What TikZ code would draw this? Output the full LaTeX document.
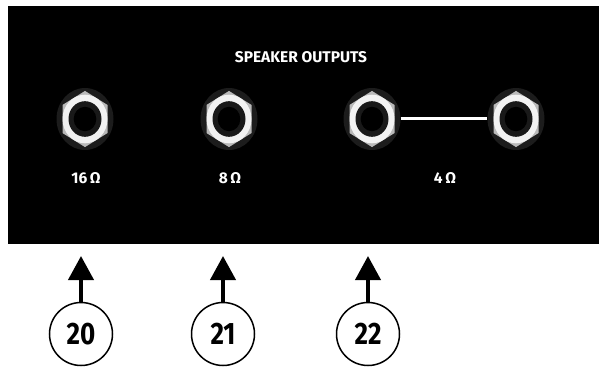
\documentclass[tikz,border=0pt]{standalone}
\usepackage{fontspec}
\setmainfont{Fira Sans}
\usetikzlibrary{shapes.geometric, arrows.meta}

\newcommand{\squeeze}[1]{\scalebox{0.84}[1]{#1}}

\tikzset{
  paneltext/.style={text=white, font=\fontsize{15.5}{18}\selectfont\bfseries, inner sep=0pt},
  jackbody/.style={ellipse, fill=gray!22!black, minimum width=57pt, minimum height=62pt, inner sep=0pt},
  callout/.style={circle, draw=black, line width=1.5pt, minimum size=63pt, inner sep=0pt,
    font=\fontsize{31}{34}\selectfont\bfseries},
  pointer/.style={-{Triangle[width=25pt,length=24pt]}, line width=4pt},
}

\begin{document}
\begin{tikzpicture}[x=1pt, y=-1pt]
  % Rahmen
  \useasboundingbox (0,0) rectangle (599,371);

  % Panel
  \fill[black] (8,6) rectangle (599,244);
  \node[paneltext] (title) at (301,57) {SPEAKER OUTPUTS};

  % Buchsen
  \foreach \x/\name in {85/j1, 229/j2, 372/j3, 516/j4} {
    \node[jackbody] (\name) at (\x,119) {};
    \begin{scope}[shift={(\x,119)}, yscale=1.08]
      \fill[gray!55] (0,-26) -- (22.5,-13) -- (22.5,13) -- (0,26) -- (-22.5,13) -- (-22.5,-13) -- cycle;
      \fill[gray!10] (0,0) circle (22.5pt);
      \fill[gray!20!black] (0,0) circle (16.5pt);
      \fill[black] (0,0) circle (11.3pt);
    \end{scope}
  }
  % Brücke 4 Ohm
  \draw[white, line width=3pt] (j3) -- (j4);

  % Impedanzen
  \node[paneltext] (l16) at (86,178) {16\,Ω};
  \node[paneltext] (l8) at (230,178) {8\,Ω};
  \node[paneltext] (l4) at (445,178) {4\,Ω};

  % Nummern
  \foreach \x/\n in {81/20, 223/21, 368/22} {
    \node[callout] (c\n) at (\x,334) {\squeeze{\n}};
    \coordinate (t\n) at (\x,256);
    \draw[pointer] (c\n) -- (t\n);
  }
\end{tikzpicture}
\end{document}
